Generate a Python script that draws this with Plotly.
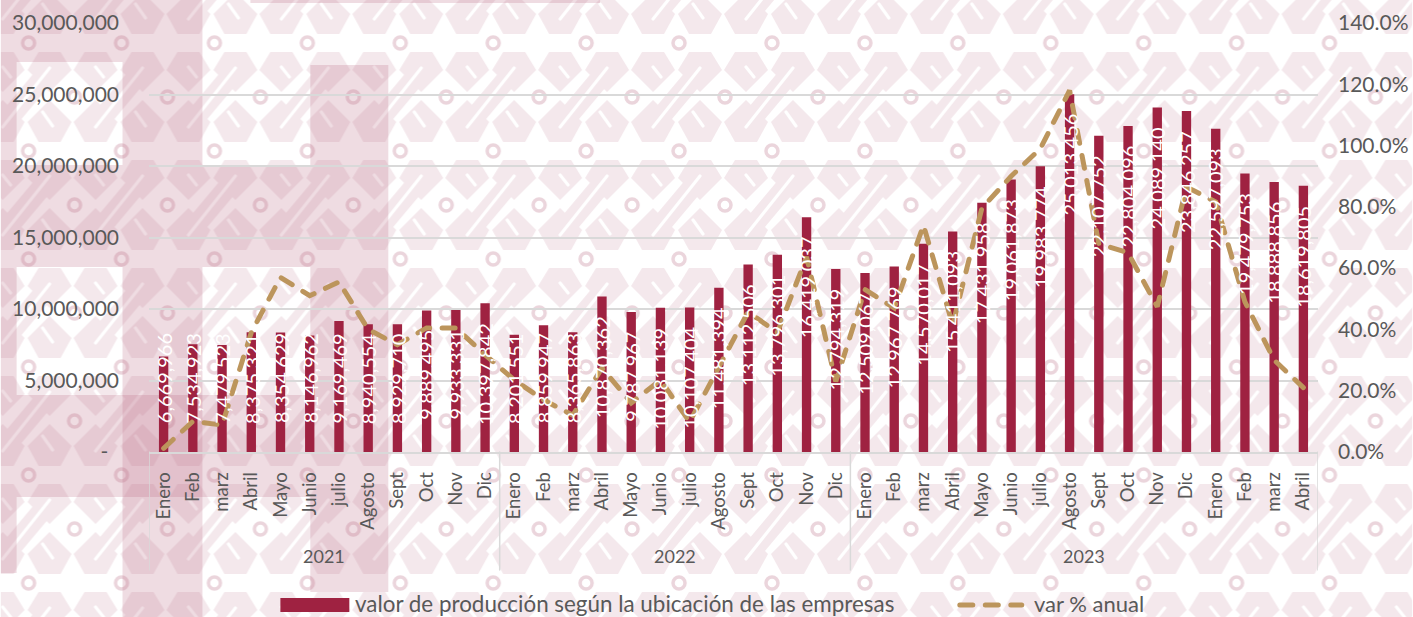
import base64
import plotly.graph_objects as go

months = ["Enero","Feb","marz","Abril","Mayo","Junio","julio","Agosto","Sept","Oct","Nov","Dic",
          "Enero","Feb","marz","Abril","Mayo","Junio","julio","Agosto","Sept","Oct","Nov","Dic",
          "Enero","Feb","marz","Abril","Mayo","Junio","julio","Agosto","Sept","Oct","Nov","Dic",
          "Enero","Feb","marz","Abril"]
years = ["2021", "2022", "2023"]
year_centres = [5.5, 17.5, 31.5]
year_edges = [-0.5, 11.5, 23.5, 39.5]
production = [6669966,7534923,7479523,8375321,8354629,8146962,9169469,8940554,8929710,9889495,9933331,10397842,
              8201551,8859947,8365863,10870362,9787967,10081139,10107404,11481394,13112506,13796301,16419037,12794319,
              12509067,12967769,14570017,15411093,17431958,19061873,19983774,25013456,22107752,22804096,24089140,23846257,
              22597093,19479753,18888856,18619805]
annual_pct = [0.012,0.10,0.088,0.39,0.57,0.51,0.555,0.40,0.35,0.405,0.405,0.317,
              0.235,0.17,0.12,0.274,0.16,0.235,0.098,0.28,0.457,0.39,0.637,0.23,
              0.53,0.47,0.74,0.415,0.796,0.90,0.99,1.18,0.68,0.65,0.474,0.865,
              0.816,0.49,0.30,0.21]
left_ticks = [0,5000000,10000000,15000000,20000000,25000000,30000000]
left_text = ["-\u00a0\u00a0","5,000,000","10,000,000","15,000,000","20,000,000","25,000,000","30,000,000"]
right_ticks = [0,0.2,0.4,0.6,0.8,1.0,1.2,1.4]

W, H = 1413, 617
L, R, T, B = 148.5, 1318.5, 23, 452
GUINDA, ORO, GREY, GRID = "#9F2241", "#BC955C", "#595959", "#D9D9D9"
FONT = "Lato"

def background():
    blob, white, ring = "#F4E8EC", "#FFFFFF", "#EBD5DC"
    hexes, bands, slits = [], [], []
    for dy in (-108, 0, 108):
        for off in (-93, 0, 93):
            for cx in (2, 49):
                c = cx + off
                hexes.append(f'<path transform="translate(0,{dy})" d="M{c-22},70 L{c-11},52 H{c+11} L{c+22},70 L{c},92 Z" fill="{blob}"/>')
                hexes.append(f'<path transform="translate(0,{dy})" d="M{c-22},122 L{c},100 L{c+22},122 L{c+11},142 H{c-11} Z" fill="{blob}"/>')
            bands.append(f'<path transform="translate(0,{dy})" d="M{off+2},126 L{off+49},70" stroke="{blob}" stroke-width="20"/>')
            slits.append(f'<path transform="translate(0,{dy})" d="M{off+2},127 L{off+49},68 M{off+2},67 L{off+10},77 M{off+42},112 L{off+52},126" '
                         f'stroke="{white}" stroke-width="3.2" stroke-linecap="round"/>')
    rings = "".join(f'<circle cx="{x}" cy="{y}" r="6" fill="none" stroke="{ring}" stroke-width="3.5"/>'
                    for x, y in [(28, 43), (74, 97), (-19, 97)])
    tile = "".join(hexes) + "".join(bands) + "".join(slits) + rings
    rects = [(0,0,202,62),(0,62,16,103),(122,62,80,103),(310,65,78,100),(0,165,388,102),
             (0,267,16,128),(122,267,80,350),(310,267,78,325),(0,395,310,102),(0,497,16,76),
             (250,0,350,3)]
    over = "".join(f'<rect x="{x}" y="{y}" width="{w}" height="{h}" fill="#BE6C86" fill-opacity="0.24"/>'
                   for x, y, w, h in rects)
    svg = (f'<svg xmlns="http://www.w3.org/2000/svg" width="{W}" height="{H}" viewBox="0 0 {W} {H}">'
           f'<defs><pattern id="t" x="0" y="0" width="93" height="108" patternUnits="userSpaceOnUse">{tile}</pattern></defs>'
           f'<rect width="{W}" height="{H}" fill="#FFFFFF"/><rect width="{W}" height="{H}" fill="url(#t)"/>{over}</svg>')
    return "data:image/svg+xml;base64," + base64.b64encode(svg.encode()).decode()

px = lambda v: (v - L) / (R - L)
py = lambda v: (B - v) / (B - T)

x_idx = list(range(len(months)))
fig = go.Figure()
fig.add_bar(x=x_idx, y=production, width=0.32, marker=dict(color=GUINDA, line_width=0),
            name="valor de producción según la ubicación de las empresas", showlegend=False)
fig.add_scatter(x=x_idx, y=annual_pct, yaxis="y2", mode="lines", name="var % anual", showlegend=False,
                line=dict(color=ORO, width=5, dash="13px,12.5px"))

ann = []
for i, v in enumerate(production):
    ann.append(dict(x=i, y=max(v - 1300000, 8350000), xref="x", yref="y", text=f"{v:,}", showarrow=False,
                    textangle=-90, yanchor="top", xanchor="center", font=dict(family=FONT, size=20, color="#FFFFFF"),
                    borderpad=0))
for y, c in zip(years, year_centres):
    ann.append(dict(x=c, y=py(556), xref="x", yref="paper", text=y, showarrow=False, yanchor="middle",
                    font=dict(family=FONT, size=18, color=GREY)))
ann.append(dict(x=px(353), y=py(603), xref="paper", yref="paper", xanchor="left", yanchor="middle", showarrow=False,
                text="valor de producción según la ubicación de las empresas", font=dict(family=FONT, size=22.4, color=GREY)))
ann.append(dict(x=px(1032), y=py(603), xref="paper", yref="paper", xanchor="left", yanchor="middle", showarrow=False,
                text="var % anual", font=dict(family=FONT, size=22, color=GREY)))

shapes = [dict(type="line", xref="x", yref="paper", x0=e, x1=e, y0=0, y1=py(570), line=dict(color=GRID, width=1.5))
          for e in year_edges]
shapes.append(dict(type="rect", xref="paper", yref="paper", x0=px(280), x1=px(349), y0=py(598), y1=py(612),
                   fillcolor=GUINDA, line_width=0))
shapes.append(dict(type="line", xref="paper", yref="paper", x0=px(960), x1=px(1022), y0=py(605), y1=py(605),
                   line=dict(color=ORO, width=5, dash="13px,12.5px")))

fig.update_layout(
    width=W, height=H, margin=dict(l=L, r=W-R, t=T, b=H-B, pad=0, autoexpand=False),
    paper_bgcolor="#FFFFFF", plot_bgcolor="rgba(0,0,0,0)", showlegend=False, bargap=0.68,
    font=dict(family=FONT, color=GREY),
    images=[dict(source=background(), xref="paper", yref="paper", x=px(0), y=py(0), sizex=W/(R-L), sizey=H/(B-T),
                 sizing="stretch", xanchor="left", yanchor="top", layer="below")],
    xaxis=dict(range=[-0.5, 39.5], tickmode="array", tickvals=x_idx, ticktext=months, tickangle=-90,
               tickfont=dict(family=FONT, size=18.5, color=GREY), showgrid=False, zeroline=False,
               showline=True, linecolor=GRID, linewidth=1.5, ticks="", ticklabelstandoff=11),
    yaxis=dict(range=[0, 30000000], tickmode="array", tickvals=left_ticks, ticktext=left_text,
               tickfont=dict(family=FONT, size=21, color=GREY), showgrid=True, gridcolor=GRID, gridwidth=1.5,
               zeroline=False, showline=False, ticks="", ticklabelstandoff=29),
    yaxis2=dict(range=[0, 1.4], overlaying="y", side="right", tickmode="array", tickvals=right_ticks,
                tickformat=".1%", tickfont=dict(family=FONT, size=21, color=GREY), showgrid=False,
                zeroline=False, showline=False, ticks="", ticklabelstandoff=19),
    annotations=ann, shapes=shapes,
)
post = ("document.documentElement.style.margin='0';document.documentElement.style.overflow='hidden';"
        "document.body.style.margin='0';document.body.style.overflow='hidden';"
        "document.querySelectorAll('.js-line, .shapelayer path').forEach(function(p){p.style.strokeLinecap='round';});")
fig.write_html("out.html", post_script=post, config=dict(displayModeBar=False))
